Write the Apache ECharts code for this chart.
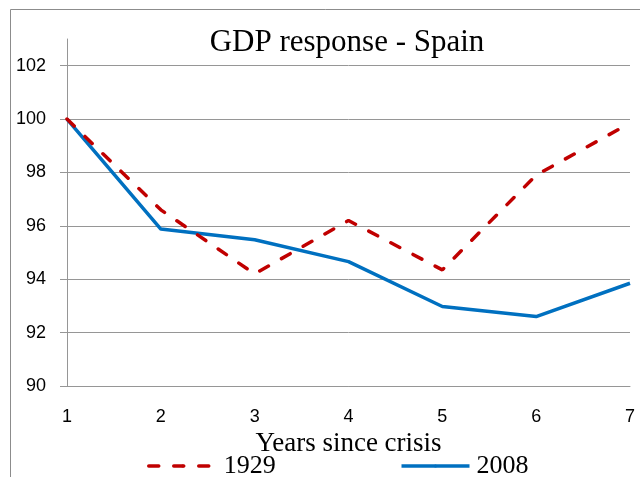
<!DOCTYPE html>
<html>
<head>
<meta charset="utf-8">
<script src="https://cdn.jsdelivr.net/npm/echarts@6/dist/echarts.min.js"></script>
<style>
  html, body { margin: 0; padding: 0; background: #fff; }
  #main { width: 640px; height: 477px; }
</style>
</head>
<body>
<div id="main"></div>
<script>
// data
var years = ['1', '2', '3', '4', '5', '6', '7'];
var gdp1929 = [100, 96.6, 94.2, 96.2, 94.35, 97.9, 99.85];
var gdp2008 = [100, 95.88, 95.48, 94.66, 92.98, 92.6, 93.85];
var yTicks = [90, 92, 94, 96, 98, 100, 102];

var grey = '#969696';
// one colour per split line; the last (axis max 103) is hidden
var splitColors = yTicks.map(function () { return grey; }).concat(['rgba(0,0,0,0)']);

var myChart = echarts.init(document.getElementById('main'));
var option = {
  backgroundColor: '#fff',
  animation: false,
  title: {
    text: 'GDP response - Spain',
    left: 342,
    textAlign: 'center',
    top: 22,
    textStyle: {
      fontFamily: 'Liberation Serif',
      fontWeight: 'normal',
      fontSize: 31,
      color: '#000'
    }
  },
  legend: {
    left: 142,
    top: 448,
    itemWidth: 68,
    itemHeight: 4,
    itemGap: 124,
    lineStyle: { width: 3.5 },
    textStyle: {
      fontFamily: 'Liberation Serif',
      fontSize: 26,
      color: '#000',
      padding: [0, 0, 0, 2]
    },
    data: ['1929', '2008']
  },
  graphic: [{
    type: 'rect',
    shape: { x: 10.5, y: 9.5, width: 700, height: 600 },
    style: { fill: 'none', stroke: '#8c8c8c', lineWidth: 1 },
    silent: true
  }],
  grid: { left: 67, right: 10, top: 39, bottom: 91 },
  xAxis: {
    type: 'category',
    data: years,
    boundaryGap: false,
    name: 'Years since crisis',
    nameLocation: 'middle',
    nameGap: 35,
    nameTextStyle: {
      fontFamily: 'Liberation Serif',
      fontSize: 27,
      color: '#000'
    },
    axisLine: { lineStyle: { color: grey, width: 1 } },
    axisTick: { show: false },
    axisLabel: {
      margin: 22,
      fontFamily: 'Liberation Sans',
      fontSize: 18,
      color: '#000'
    },
    splitLine: { show: false }
  },
  yAxis: {
    type: 'value',
    min: 90,
    max: 103,
    interval: 2,
    axisLine: { show: true, lineStyle: { color: grey, width: 1 } },
    axisTick: {
      show: true,
      length: 7,
      customValues: yTicks,
      lineStyle: { color: grey }
    },
    axisLabel: {
      margin: 21,
      customValues: yTicks,
      fontFamily: 'Liberation Sans',
      fontSize: 18,
      color: '#000'
    },
    splitLine: { show: true, lineStyle: { color: splitColors, width: 1 } }
  },
  series: [{
    name: '1929',
    type: 'line',
    data: gdp1929,
    symbol: 'none',
    lineStyle: { color: '#C00000', width: 3.5, type: [10, 15], cap: 'round' },
    itemStyle: { color: '#C00000' },
    z: 3
  }, {
    name: '2008',
    type: 'line',
    data: gdp2008,
    symbol: 'none',
    lineStyle: { color: '#0070C0', width: 3.5 },
    itemStyle: { color: '#0070C0' },
    z: 2
  }]
};
myChart.setOption(option);
</script>
</body>
</html>
